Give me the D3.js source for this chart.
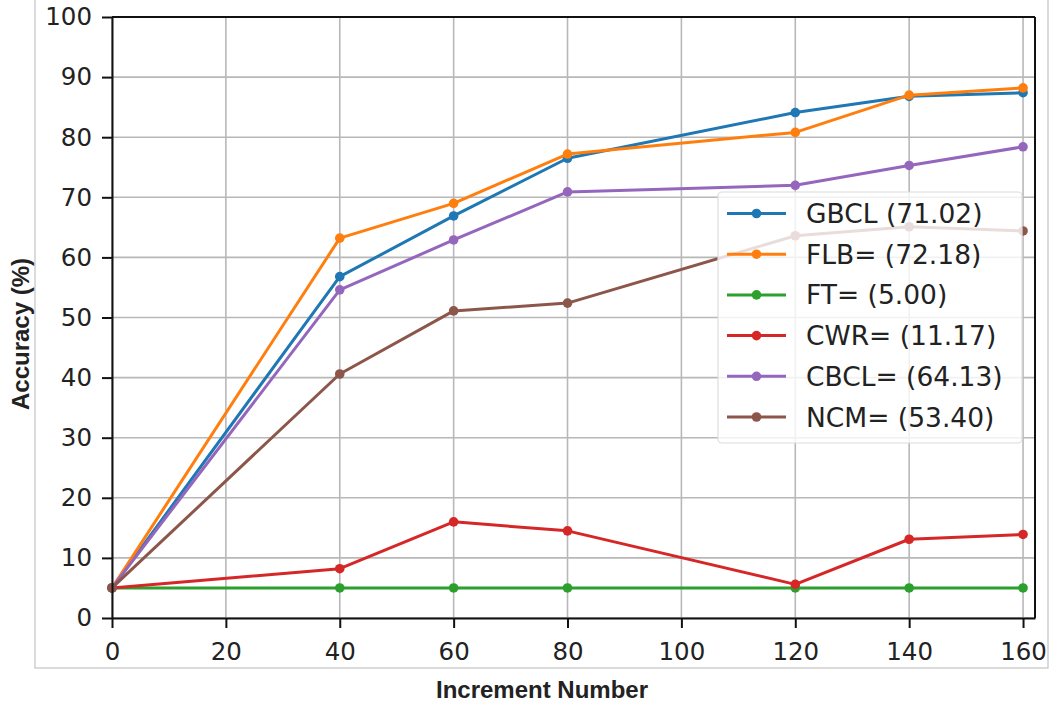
<!DOCTYPE html>
<html>
<head>
<meta charset="utf-8">
<script src="https://cdn.jsdelivr.net/npm/d3@7"></script>
<style>
  body { margin: 0; background: #fff; }
  svg { display: block; }
  .tick text { font-family: "DejaVu Sans", sans-serif; font-size: 24.5px; fill: #222; }
  .axis-title { font-family: "Liberation Sans", Arial, sans-serif; font-weight: bold; font-size: 24px; fill: #222; }
  .legend-text { font-family: "DejaVu Sans", sans-serif; font-size: 26.5px; fill: #222; }
</style>
</head>
<body>
<svg id="chart"></svg>
<script>
// data
const increments = [0, 40, 60, 80, 120, 140, 160];
const seriesNames = ['GBCL (71.02)', 'FLB= (72.18)', 'FT= (5.00)', 'CWR= (11.17)', 'CBCL= (64.13)', 'NCM= (53.40)'];
const gbcl = [5.0, 56.8, 66.9, 76.5, 84.1, 86.8, 87.4];
const flb  = [5.0, 63.2, 69.0, 77.2, 80.8, 87.0, 88.2];
const ft   = [5.0, 5.0, 5.0, 5.0, 5.0, 5.0, 5.0];
const cwr  = [5.0, 8.2, 16.0, 14.5, 5.6, 13.1, 13.9];
const cbcl = [5.0, 54.6, 62.9, 70.9, 72.0, 75.3, 78.4];
const ncm  = [5.0, 40.6, 51.1, 52.4, 63.6, 65.1, 64.4];
const xTicks = [0, 20, 40, 60, 80, 100, 120, 140, 160];
const yTicks = [0, 10, 20, 30, 40, 50, 60, 70, 80, 90, 100];
const colors = ['#1f77b4', '#ff7f0e', '#2ca02c', '#d62728', '#9467bd', '#8c564b'];

const allSeries = [gbcl, flb, ft, cwr, cbcl, ncm];

const W = 1052, H = 702;
const svg = d3.select('#chart').attr('width', W).attr('height', H);

// outer light frame of the figure
svg.append('rect')
    .attr('x', 35).attr('y', -2)
    .attr('width', 1013).attr('height', 670)
    .attr('fill', 'none')
    .attr('stroke', '#c4c4c4')
    .attr('stroke-width', 1.2);

const plotLeft = 112, plotRight = 1035, plotTop = 17, plotBottom = 618;

const xScale = d3.scaleLinear().domain([0, 162.1]).range([plotLeft, plotRight]);
const yScale = d3.scaleLinear().domain([0, 100]).range([plotBottom, plotTop]);

// grid
const grid = svg.append('g');
grid.selectAll('.gx').data(xTicks).join('line')
    .attr('x1', d => xScale(d)).attr('x2', d => xScale(d))
    .attr('y1', plotTop).attr('y2', plotBottom)
    .attr('stroke', '#b8b8b8').attr('stroke-width', 1.6);
grid.selectAll('.gy').data(yTicks).join('line')
    .attr('x1', plotLeft).attr('x2', plotRight)
    .attr('y1', d => yScale(d)).attr('y2', d => yScale(d))
    .attr('stroke', '#b8b8b8').attr('stroke-width', 1.6);

// lines and markers
const line = d3.line()
    .x((d, i) => xScale(increments[i]))
    .y(d => yScale(d));

const plot = svg.append('g');
allSeries.forEach((s, k) => {
    plot.append('path')
        .attr('d', line(s))
        .attr('fill', 'none')
        .attr('stroke', colors[k])
        .attr('stroke-width', 3)
        .attr('stroke-linejoin', 'round');
    plot.selectAll(null).data(s).join('circle')
        .attr('cx', (d, i) => xScale(increments[i]))
        .attr('cy', d => yScale(d))
        .attr('r', 4.8)
        .attr('fill', colors[k]);
});

// axes
svg.append('g')
    .attr('transform', `translate(0,${plotBottom})`)
    .call(d3.axisBottom(xScale).tickValues(xTicks).tickSize(10).tickPadding(15).tickSizeOuter(0))
    .call(g => g.select('.domain').attr('stroke', '#111').attr('stroke-width', 2))
    .call(g => g.selectAll('.tick line').attr('stroke', '#111').attr('stroke-width', 2));

svg.append('g')
    .attr('transform', `translate(${plotLeft},0)`)
    .call(d3.axisLeft(yScale).tickValues(yTicks).tickSize(10).tickPadding(10).tickSizeOuter(0))
    .call(g => g.select('.domain').attr('stroke', '#111').attr('stroke-width', 2))
    .call(g => g.selectAll('.tick line').attr('stroke', '#111').attr('stroke-width', 2));

// top and right spines
svg.append('line').attr('x1', plotLeft).attr('x2', plotRight).attr('y1', plotTop).attr('y2', plotTop)
    .attr('stroke', '#111').attr('stroke-width', 2);
svg.append('line').attr('x1', plotRight).attr('x2', plotRight).attr('y1', plotTop).attr('y2', plotBottom)
    .attr('stroke', '#111').attr('stroke-width', 2);

// axis titles
svg.append('text')
    .attr('class', 'axis-title')
    .attr('x', 542).attr('y', 698)
    .attr('text-anchor', 'middle')
    .text('Increment Number');

svg.append('text')
    .attr('class', 'axis-title')
    .attr('transform', 'translate(29,334) rotate(-90)')
    .attr('text-anchor', 'middle')
    .text('Accuracy (%)');

// legend
const legend = svg.append('g');
legend.append('rect')
    .attr('x', 718).attr('y', 192)
    .attr('width', 304).attr('height', 251)
    .attr('rx', 4)
    .attr('fill', 'rgba(255,255,255,0.8)')
    .attr('stroke', '#dcdcdc')
    .attr('stroke-width', 1.2);

seriesNames.forEach((name, k) => {
    const yy = 213.5 + k * 40.7;
    legend.append('line')
        .attr('x1', 727).attr('x2', 786)
        .attr('y1', yy).attr('y2', yy)
        .attr('stroke', colors[k]).attr('stroke-width', 3);
    legend.append('circle')
        .attr('cx', 756.5).attr('cy', yy).attr('r', 4.8)
        .attr('fill', colors[k]);
    legend.append('text')
        .attr('class', 'legend-text')
        .attr('x', 806).attr('y', yy + 9.5)
        .text(name);
});
</script>
</body>
</html>
